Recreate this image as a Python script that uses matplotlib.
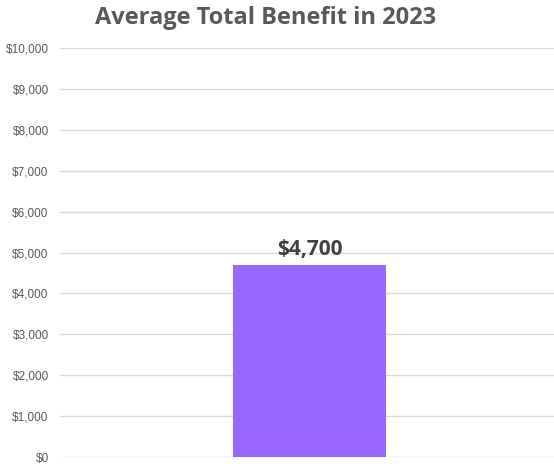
import matplotlib
matplotlib.use("Agg")
import matplotlib.pyplot as plt
from matplotlib.ticker import FuncFormatter, MultipleLocator

categories = ["2023"]
values = [4700]
title = "Average Total Benefit in 2023"

fig = plt.figure(figsize=(5.54, 4.66), dpi=100)
ax = fig.add_axes([0.108, 0.019, 0.892, 0.878])

x = range(len(categories))
bars = ax.bar(x, values, width=0.31, color="#9966FF", zorder=3)

ax.set_xlim(-0.506, 0.494)
ax.set_ylim(0, 10000)
ax.yaxis.set_major_locator(MultipleLocator(1000))
ax.yaxis.set_major_formatter(FuncFormatter(lambda v, p: f"${v:,.0f}"))
ax.set_xticks([])
ax.grid(axis="y", color="#d9d9d9", linewidth=1, zorder=0)
for s in ax.spines.values():
    s.set_visible(False)
ax.tick_params(axis="y", length=0, pad=8, labelsize=8.5, labelcolor="#595959")
for lab in ax.get_yticklabels():
    lab.set_fontfamily("Liberation Sans")

for b, v in zip(bars, values):
    ax.text(b.get_x() + b.get_width() / 2, v + 250, f"${v:,.0f}",
            ha="center", va="baseline", fontsize=15, fontweight="bold",
            color="#404040", family="Open Sans")

fig.text(0.48, 0.948, title, ha="center", va="baseline", fontsize=17,
         fontweight="bold", color="#595959", family="Open Sans")

fig.savefig("out.png", dpi=100)
